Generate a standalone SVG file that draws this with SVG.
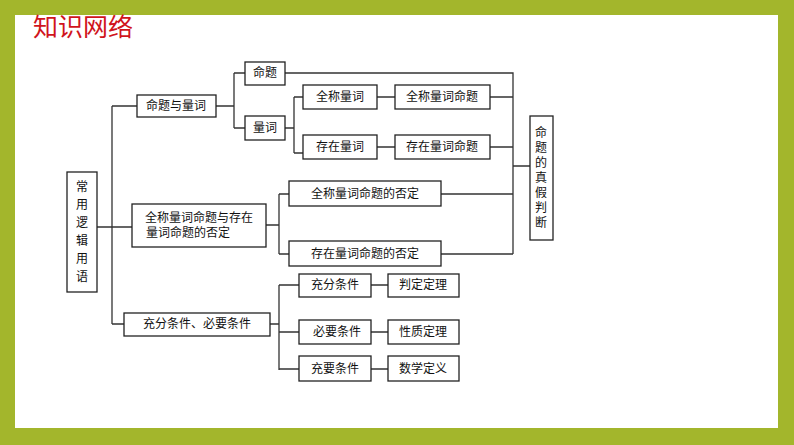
<svg xmlns="http://www.w3.org/2000/svg" width="794" height="445" viewBox="0 0 794 445">
<style>
.b{fill:#fff;stroke:#222;stroke-width:1.3}
.t{font-family:"Liberation Serif","Noto Sans CJK SC",serif;font-size:12px;fill:#111;text-anchor:middle;dominant-baseline:central}
.c{fill:none;stroke:#333;stroke-width:1.3}
</style>
<rect x="0" y="0" width="794" height="445" fill="#a3b62c"/>
<rect x="15" y="15" width="763" height="413" fill="#fff"/>
<text x="33" y="36" font-family="Noto Sans CJK SC,sans-serif" font-size="25" fill="#d0141c">知识网络</text>
<g id="connectors" class="c">
<path d="M97 227H112M112 106V324M112 106H137M112 227H132M112 324H124"/>
<path d="M216 106H234M234 73V128M234 73H245M234 128H245"/>
<path d="M285 128H294M294 97V153M294 97H303M294 153H303M377 97H395M377 147H395"/>
<path d="M285 73H513V254M490 97H513M490 147H513M441 194H513M441 254H513M513 166H530"/>
<path d="M266 225H279M279 194V254M279 194H289M279 254H289"/>
<path d="M270 324H279M279 285V370M279 285H299M279 332H299M279 369H299M371 285H388M371 332H388M371 369H388"/>
</g>
<g id="root"><rect class="b" x="67" y="172" width="30" height="120"/><text class="t" font-size="13"><tspan x="82" y="187">常</tspan><tspan x="82" y="205">用</tspan><tspan x="82" y="223">逻</tspan><tspan x="82" y="241">辑</tspan><tspan x="82" y="259">用</tspan><tspan x="82" y="277">语</tspan></text></g>
<g id="n1"><rect class="b" x="137" y="95" width="79" height="22"/><text class="t" x="176" y="106">命题与量词</text></g>
<g id="n2"><rect class="b" x="245" y="62" width="40" height="23"/><text class="t" x="265" y="73">命题</text></g>
<g id="n3"><rect class="b" x="245" y="116" width="40" height="24"/><text class="t" x="265" y="128">量词</text></g>
<g id="n4"><rect class="b" x="303" y="85" width="74" height="24"/><text class="t" x="340" y="97">全称量词</text></g>
<g id="n5"><rect class="b" x="303" y="135" width="74" height="24"/><text class="t" x="340" y="147">存在量词</text></g>
<g id="n6"><rect class="b" x="395" y="85" width="95" height="24"/><text class="t" x="442" y="97">全称量词命题</text></g>
<g id="n7"><rect class="b" x="395" y="135" width="95" height="24"/><text class="t" x="442" y="147">存在量词命题</text></g>
<g id="n8"><rect class="b" x="132" y="204" width="134" height="43"/><text class="t" x="199" y="218">全称量词命题与存在</text><text class="t" x="188" y="233">量词命题的否定</text></g>
<g id="n9"><rect class="b" x="289" y="181" width="152" height="25"/><text class="t" x="365" y="194">全称量词命题的否定</text></g>
<g id="n10"><rect class="b" x="289" y="241" width="152" height="25"/><text class="t" x="365" y="254">存在量词命题的否定</text></g>
<g id="n11"><rect class="b" x="530" y="116" width="23" height="124"/><text class="t"><tspan x="541" y="133">命</tspan><tspan x="541" y="148">题</tspan><tspan x="541" y="163">的</tspan><tspan x="541" y="178">真</tspan><tspan x="541" y="193">假</tspan><tspan x="541" y="208">判</tspan><tspan x="541" y="223">断</tspan></text></g>
<g id="n12"><rect class="b" x="124" y="313" width="146" height="23"/><text class="t" x="197" y="324">充分条件、必要条件</text></g>
<g id="n13"><rect class="b" x="299" y="274" width="72" height="23"/><text class="t" x="335" y="285">充分条件</text></g>
<g id="n14"><rect class="b" x="299" y="320" width="72" height="24"/><text class="t" x="337" y="332">必要条件</text></g>
<g id="n15"><rect class="b" x="299" y="356" width="72" height="25"/><text class="t" x="335" y="369">充要条件</text></g>
<g id="n16"><rect class="b" x="388" y="274" width="71" height="23"/><text class="t" x="423" y="285">判定定理</text></g>
<g id="n17"><rect class="b" x="388" y="320" width="71" height="24"/><text class="t" x="423" y="332">性质定理</text></g>
<g id="n18"><rect class="b" x="388" y="356" width="71" height="25"/><text class="t" x="423" y="369">数学定义</text></g>
</svg>
